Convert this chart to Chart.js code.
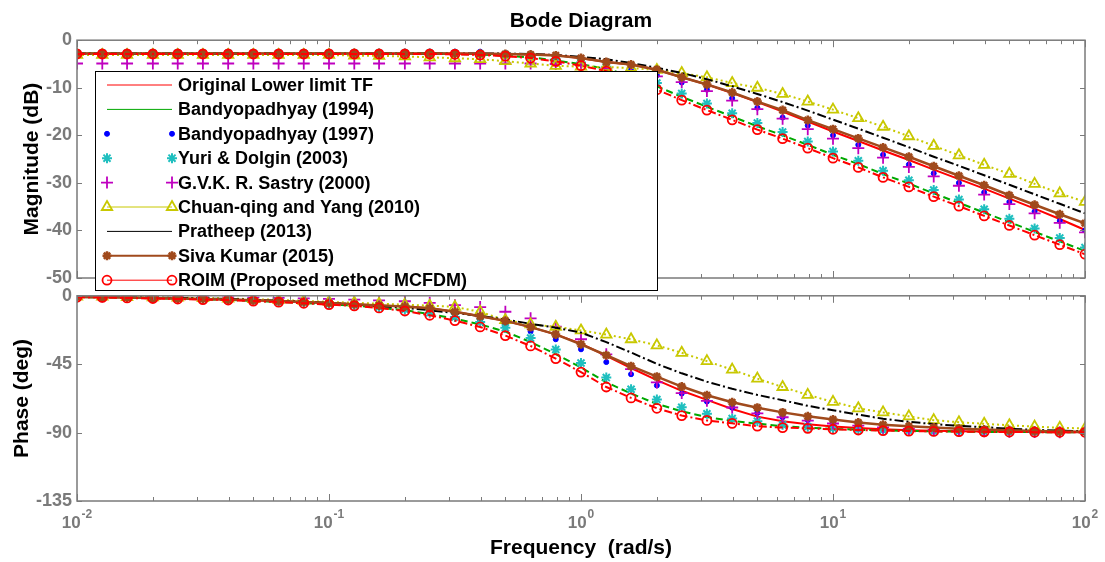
<!DOCTYPE html>
<html>
<head>
<meta charset="utf-8">
<script src="https://cdn.jsdelivr.net/npm/chart.js@4.4.1/dist/chart.umd.min.js"></script>
<style>
  body { margin: 0; background: #fff; }
  #wrap { position: relative; width: 1105px; height: 562px; }
  #magBox { position: absolute; left: 0; top: 0; z-index: 2; }
  #phBox { position: absolute; left: 0; top: 280px; z-index: 1; }
</style>
</head>
<body>
<div id="wrap">
  <div id="phBox"><canvas id="phChart" width="1105" height="282"></canvas></div>
  <div id="magBox"><canvas id="magChart" width="1105" height="300"></canvas></div>
</div>
<script>
// frequency grid (rad/s), 10 points per decade
const freq = [0.01, 0.0126, 0.0158, 0.02, 0.0251, 0.0316, 0.0398, 0.0501, 0.0631, 0.0794,
  0.1, 0.126, 0.158, 0.2, 0.251, 0.316, 0.398, 0.501, 0.631, 0.794,
  1, 1.26, 1.58, 2, 2.51, 3.16, 3.98, 5.01, 6.31, 7.94,
  10, 12.6, 15.8, 20, 25.1, 31.6, 39.8, 50.1, 63.1, 79.4, 100];

// magnitude (dB)
const magOrig = [-2.8, -2.8, -2.8, -2.8, -2.8, -2.8, -2.8, -2.8, -2.8, -2.8, -2.8, -2.8, -2.8, -2.8, -2.8, -2.8,
  -2.85, -2.9, -3.0, -3.1, -3.8, -4.6, -5.1, -6.2, -7.8, -9.3, -11.1, -13.0, -15.0, -17.1, -19.2,
  -21.2, -23.2, -25.2, -27.2, -29.2, -31.2, -33.3, -35.4, -37.6, -39.9];
const magBandy94 = [-2.8, -2.8, -2.8, -2.8, -2.8, -2.8, -2.8, -2.8, -2.8, -2.8, -2.8, -2.8, -2.8, -2.8, -2.8,
  -2.9, -3.0, -3.25, -3.6, -4.25, -5.05, -6.0, -7.55, -9.7, -11.9, -14.0, -16.05, -18.1, -20.0, -22.0, -24.1,
  -26.05, -28.15, -30.15, -32.2, -34.2, -36.25, -38.25, -40.3, -42.3, -44.3];
const magBandy97 = [-2.4, -2.4, -2.4, -2.4, -2.4, -2.4, -2.4, -2.4, -2.4, -2.4, -2.4, -2.4, -2.4, -2.4, -2.4, -2.4, -2.4,
  -2.7, -3.1, -3.6, -4.4, -5.2, -6.2, -7.35, -8.9, -10.4, -12.2, -14.2, -16.25, -17.95, -20.0,
  -22.0, -24.1, -26.15, -28.0, -30.0, -32.0, -34.0, -36.0, -38.0, -40.0];
const magYuri = [-2.8, -2.8, -2.8, -2.8, -2.8, -2.8, -2.8, -2.8, -2.8, -2.8, -2.8, -2.8, -2.8, -2.8, -2.8,
  -2.85, -2.95, -3.15, -3.45, -4.0, -4.7, -5.6, -7.0, -9.0, -11.2, -13.3, -15.35, -17.4, -19.3, -21.3, -23.4,
  -25.35, -27.45, -29.45, -31.5, -33.5, -35.55, -37.55, -39.6, -41.6, -43.6];
const magSastry = [-4.9, -4.9, -4.9, -4.9, -4.9, -4.9, -4.9, -4.9, -4.9, -4.9, -4.9, -4.9, -4.9, -4.9, -4.9, -4.9, -4.9, -4.9,
  -4.9, -5.0, -5.3, -5.95, -6.8, -7.6, -8.8, -10.7, -12.7, -14.5, -16.5, -18.7, -20.7,
  -22.7, -24.7, -26.65, -28.65, -30.6, -32.45, -34.45, -36.4, -38.4, -40.4];
const magChuan = [-3.1, -3.1, -3.1, -3.1, -3.1, -3.1, -3.1, -3.1, -3.1, -3.1, -3.1,
  -3.25, -3.3, -3.4, -3.6, -3.8, -4.0, -4.4, -4.9, -5.4, -5.55, -5.65, -5.85, -6.25, -6.9, -7.8,
  -9.0, -10.0, -11.3, -12.9, -14.6, -16.4, -18.2, -20.2, -22.2, -24.2, -26.2, -28.1, -30.2, -32.2, -34.0];
const magPratheep = [-2.8, -2.8, -2.8, -2.8, -2.8, -2.8, -2.8, -2.8, -2.8, -2.8, -2.8, -2.8, -2.8, -2.8, -2.8, -2.8, -2.8, -2.8,
  -2.9, -3.1, -3.5, -4.0, -4.8, -5.8, -6.9, -8.2, -9.7, -11.3, -13.0, -14.8, -16.7,
  -18.6, -20.5, -22.5, -24.5, -26.4, -28.4, -30.4, -32.4, -34.4, -36.4];
const magSiva = [-2.8, -2.8, -2.8, -2.8, -2.8, -2.8, -2.8, -2.8, -2.8, -2.8, -2.8, -2.8, -2.8, -2.8, -2.8, -2.8,
  -2.85, -2.9, -3.0, -3.2, -3.75, -4.6, -5.1, -6.2, -7.8, -9.3, -11.0, -12.9, -14.7, -16.8, -18.7,
  -20.65, -22.55, -24.5, -26.5, -28.5, -30.5, -32.6, -34.6, -36.6, -38.5];
const magRoim = [-2.9, -2.9, -2.9, -2.9, -2.9, -2.9, -2.9, -2.9, -2.9, -2.9, -2.9, -2.9, -2.9, -2.9, -2.9,
  -2.95, -3.1, -3.35, -3.75, -4.45, -5.35, -6.5, -8.2, -10.4, -12.6, -14.7, -16.75, -18.8, -20.7, -22.7, -24.8,
  -26.75, -28.85, -30.85, -32.9, -34.9, -36.95, -38.95, -41.0, -43.0, -45.0];

// phase (deg)
const phOrig = [-0.8, -1.0, -1.2, -1.5, -1.8, -2.1, -2.5, -3.0, -3.5, -4.1, -4.8, -5.5, -6.3, -7.1, -8.2, -10.5, -13.5, -16.5, -20.6, -25.4,
  -31.5, -39.5, -47.5, -55.5, -62.5, -68.5, -74.5, -79.5, -82.5, -84.5, -86.0, -87.0, -87.8, -88.4, -88.8, -89.1, -89.3, -89.5, -89.6, -89.7, -89.8];
const phBandy94 = [-0.8, -1.0, -1.25, -1.6, -1.9, -2.3, -2.7, -3.35, -4.05, -4.75, -5.6, -6.45, -7.75, -9.5, -12.0, -15.1, -18.8, -23.6, -30.4, -38.3,
  -47.2, -56.9, -64.3, -71.1, -76.0, -79.8, -82.3, -84.1, -85.8, -86.7, -87.5, -88.1, -88.5, -88.9, -89.15, -89.35, -89.5, -89.6, -89.7, -89.8, -89.8];
const phBandy97 = [-0.7, -0.9, -1.1, -1.4, -1.7, -2.0, -2.5, -3.0, -3.5, -4.2, -5.0, -5.9, -7.0, -8.3, -10.0, -12.5, -16.0, -20.0, -23.5, -28.6,
  -35.2, -43.6, -51.6, -59.0, -64.3, -69.6, -73.6, -77.1, -79.9, -81.8, -83.8, -85.2, -86.7, -87.3, -88.0, -88.6, -89.1, -89.5, -89.7, -89.8, -89.9];
const phYuri = [-0.7, -0.9, -1.1, -1.4, -1.7, -2.1, -2.6, -3.2, -3.9, -4.6, -5.4, -6.3, -7.5, -9.0, -11.2, -14.0, -17.2, -21.0, -27.8, -35.3,
  -44.2, -53.8, -61.5, -68.2, -73.3, -77.6, -80.7, -82.5, -84.9, -86.2, -87.2, -87.9, -88.4, -88.8, -89.1, -89.3, -89.5, -89.6, -89.7, -89.8, -89.8];
const phSastry = [-0.4, -0.5, -0.6, -0.7, -0.8, -0.9, -1.0, -1.2, -1.4, -1.7, -2.0, -2.5, -3.0, -3.6, -4.6, -6.2, -7.4, -10.5, -14.8, -20.3,
  -28.6, -38.5, -48.3, -57.0, -64.0, -69.1, -73.5, -77.3, -79.9, -82.1, -84.0, -85.4, -86.6, -87.5, -88.2, -88.7, -89.1, -89.4, -89.6, -89.7, -89.8];
const phChuan = [-0.5, -0.6, -0.8, -1.0, -1.2, -1.5, -1.8, -2.2, -2.7, -3.3, -4.0, -4.6, -5.2, -5.8, -6.5, -7.3, -10.6, -16.0, -18.8, -20.4,
  -22.8, -25.5, -28.6, -32.6, -37.5, -43.0, -48.6, -54.5, -60.0, -65.2, -69.8, -74.0, -76.7, -79.3, -81.8, -83.2, -84.2, -85.2, -86.1, -86.8, -87.3];
const phPratheep = [-0.6, -0.7, -0.9, -1.1, -1.4, -1.7, -2.1, -2.6, -3.2, -3.9, -4.7, -5.6, -6.7, -8.0, -9.5, -11.3, -13.3, -15.6, -18.4, -21.0,
  -24.2, -30.5, -37.3, -44.8, -51.0, -56.5, -61.2, -65.2, -68.7, -72.4, -75.3, -78.2, -80.9, -82.9, -84.4, -85.6, -86.4, -87.5, -88.2, -88.7, -89.1];
const phSiva = [-0.8, -1.0, -1.2, -1.5, -1.8, -2.1, -2.5, -3.0, -3.5, -4.1, -4.8, -5.5, -6.3, -7.1, -8.2, -10.5, -13.5, -16.5, -20.6, -25.4,
  -31.9, -39.1, -46.3, -53.2, -59.7, -65.4, -70.0, -73.6, -76.7, -79.3, -81.4, -83.4, -84.8, -85.9, -86.7, -87.4, -88.0, -88.5, -88.9, -89.2, -89.4];
const phRoim = [-0.9, -1.1, -1.4, -1.8, -2.1, -2.5, -2.8, -3.5, -4.2, -4.9, -5.8, -6.6, -8.0, -10.0, -12.8, -16.3, -20.5, -26.2, -33.0, -41.3,
  -50.2, -60.0, -67.2, -74.0, -78.8, -82.0, -83.9, -85.8, -86.7, -87.2, -87.8, -88.3, -88.7, -89.0, -89.2, -89.4, -89.5, -89.6, -89.7, -89.8, -89.8];

const magTicks = [0, -10, -20, -30, -40, -50];
const phTicks = [0, -45, -90, -135];
const decades = [-2, -1, 0, 1, 2];

const FONT = 'Arial, "Liberation Sans", Helvetica, sans-serif';
const AXIS_GREY = '#7a7a7a';
const NONE = 'rgba(0,0,0,0)';

const series = [
  { label: 'Original Lower limit TF', mag: magOrig, ph: phOrig, color: '#ff0000', width: 2, dash: [], line: true },
  { label: 'Bandyopadhyay (1994)', mag: magBandy94, ph: phBandy94, color: '#00a800', width: 2, dash: [7, 4], line: true },
  { label: 'Bandyopadhyay (1997)', mag: magBandy97, ph: phBandy97, color: '#0000ff', line: false,
    marker: 'circle', radius: 2.5, fill: '#0000ff', pw: 1 },
  { label: 'Yuri & Dolgin (2003)', mag: magYuri, ph: phYuri, color: '#1fbfbf', line: false,
    marker: 'star', radius: 5, fill: NONE, pw: 2 },
  { label: 'G.V.K. R. Sastry (2000)', mag: magSastry, ph: phSastry, color: '#bf00bf', line: false,
    marker: 'cross', radius: 6, fill: NONE, pw: 1.8 },
  { label: 'Chuan-qing and Yang (2010)', mag: magChuan, ph: phChuan, color: '#c8c800', width: 2, dash: [2, 3], line: true,
    marker: 'triangle', radius: 6, fill: NONE, pw: 1.8 },
  { label: 'Pratheep (2013)', mag: magPratheep, ph: phPratheep, color: '#000000', width: 2, dash: [9, 3, 2, 3], line: true },
  { label: 'Siva Kumar (2015)', mag: magSiva, ph: phSiva, color: '#a04a1c', width: 2.5, dash: [], line: true,
    marker: 'star', radius: 4.5, fill: '#a04a1c', pw: 2.5, legendWidth: 2 },
  { label: 'ROIM (Proposed method MCFDM)', mag: magRoim, ph: phRoim, color: '#ff0000', width: 2, dash: [8, 3, 2, 3], line: true,
    marker: 'circle', radius: 4.5, fill: NONE, pw: 1.8 }
];

function makeSets(key) {
  return series.map((s, i) => ({
    label: s.label,
    data: freq.map((f, j) => ({ x: f, y: s[key][j] })),
    showLine: s.line,
    borderColor: s.color,
    backgroundColor: s.fill || NONE,
    borderWidth: s.width || 1,
    borderDash: s.dash || [],
    tension: 0,
    pointStyle: s.marker || 'circle',
    pointRadius: s.marker ? s.radius : 0,
    pointBorderColor: s.color,
    pointBackgroundColor: s.fill || NONE,
    pointBorderWidth: s.pw || 1,
    order: series.length - i
  }));
}

function drawMarker(ctx, s, x, y) {
  ctx.save();
  ctx.strokeStyle = s.color;
  ctx.fillStyle = s.fill;
  ctx.lineWidth = s.pw;
  Chart.helpers.drawPoint(ctx, { pointStyle: s.marker, radius: s.radius, borderWidth: s.pw, rotation: 0 }, x, y);
  ctx.restore();
}

function drawLegend(ctx) {
  const left = 95, top = 71, right = 657, bottom = 290;
  ctx.save();
  ctx.fillStyle = '#fff';
  ctx.fillRect(left, top, right - left, bottom - top);
  ctx.strokeStyle = '#000';
  ctx.lineWidth = 1;
  ctx.strokeRect(left + 0.5, top + 0.5, right - left, bottom - top);
  ctx.font = 'bold 18px ' + FONT;
  ctx.textBaseline = 'middle';
  series.forEach((s, i) => {
    const y = 85 + i * 24.4;
    if (s.line) {
      ctx.strokeStyle = s.color;
      ctx.lineWidth = s.legendWidth || 1;
      ctx.beginPath();
      ctx.moveTo(107, y);
      ctx.lineTo(172, y);
      ctx.stroke();
    }
    if (s.marker) {
      drawMarker(ctx, s, 107, y);
      drawMarker(ctx, s, 172, y);
    }
    ctx.fillStyle = '#000';
    ctx.fillText(s.label, 178, y + 1);
  });
  ctx.restore();
}

// MATLAB-like box with inward ticks
function frame(isPhase) {
  return {
    id: 'frame' + (isPhase ? 'Ph' : 'Mag'),
    afterDraw(chart) {
      const { ctx, chartArea: a, scales } = chart;
      const xs = scales.x, ys = scales.y;
      ctx.save();
      ctx.strokeStyle = AXIS_GREY;
      ctx.lineWidth = 1.5;
      ctx.strokeRect(a.left, a.top, a.right - a.left, a.bottom - a.top);
      ctx.lineWidth = 1;
      ctx.beginPath();
      decades.forEach(e => {
        for (let m = 1; m <= 9; m++) {
          const v = m * Math.pow(10, e);
          if (v > 100) break;
          const px = Math.round(xs.getPixelForValue(v)) + 0.5;
          const len = m === 1 ? 7 : 4;
          ctx.moveTo(px, a.bottom); ctx.lineTo(px, a.bottom - len);
          ctx.moveTo(px, a.top); ctx.lineTo(px, a.top + len);
        }
      });
      ys.ticks.forEach(t => {
        const py = Math.round(ys.getPixelForValue(t.value)) + 0.5;
        ctx.moveTo(a.left, py); ctx.lineTo(a.left + 5, py);
        ctx.moveTo(a.right, py); ctx.lineTo(a.right - 5, py);
      });
      ctx.stroke();
      if (isPhase) {
        ctx.fillStyle = AXIS_GREY;
        ctx.textBaseline = 'alphabetic';
        decades.forEach(e => {
          const px = xs.getPixelForValue(Math.pow(10, e));
          const base = '10', sup = String(e);
          ctx.font = 'bold 17px ' + FONT;
          const wb = ctx.measureText(base).width;
          ctx.font = 'bold 12px ' + FONT;
          const ws = ctx.measureText(sup).width;
          const x0 = px - (wb + ws + 1) / 2;
          ctx.font = 'bold 17px ' + FONT;
          ctx.fillText(base, x0, a.bottom + 27);
          ctx.font = 'bold 12px ' + FONT;
          ctx.fillText(sup, x0 + wb + 1, a.bottom + 17);
        });
      } else {
        drawLegend(ctx);
      }
      ctx.restore();
    }
  };
}

function yAxis(min, max, step, title, titlePad) {
  return {
    min: min, max: max,
    afterFit: s => { s.width = 77; },
    grid: { display: false, drawTicks: false },
    border: { display: false },
    ticks: { stepSize: step, color: AXIS_GREY, padding: 5, font: { family: FONT, size: 18, weight: 'bold' } },
    title: { display: true, text: title, color: '#000', padding: { top: titlePad, bottom: 0 },
             font: { family: FONT, size: 21, weight: 'bold' } }
  };
}

new Chart(document.getElementById('magChart'), {
  type: 'scatter',
  data: { datasets: makeSets('mag') },
  options: {
    responsive: false,
    animation: false,
    events: [],
    layout: { padding: { top: 0, right: 20, bottom: 22, left: 0 } },
    scales: {
      x: { type: 'logarithmic', min: 0.01, max: 100, display: false },
      y: yAxis(magTicks[magTicks.length - 1], magTicks[0], 10, 'Magnitude (dB)', 20)
    },
    plugins: {
      legend: { display: false },
      tooltip: { enabled: false },
      title: { display: true, fullSize: false, text: 'Bode Diagram', color: '#000',
               font: { family: FONT, size: 21, weight: 'bold' }, padding: { top: 9, bottom: 6 } }
    }
  },
  plugins: [frame(false)]
});

new Chart(document.getElementById('phChart'), {
  type: 'scatter',
  data: { datasets: makeSets('ph') },
  options: {
    responsive: false,
    animation: false,
    events: [],
    layout: { padding: { top: 12, right: 20, bottom: 0, left: 0 } },
    scales: {
      x: {
        type: 'logarithmic', min: 0.01, max: 100,
        afterFit: s => { s.height = 61; },
        grid: { display: false, drawTicks: false },
        border: { display: false },
        ticks: { display: false },
        title: { display: true, text: 'Frequency  (rad/s)', color: '#000', padding: { top: 0, bottom: 1 },
                 font: { family: FONT, size: 21, weight: 'bold' } }
      },
      y: yAxis(phTicks[phTicks.length - 1], phTicks[0], 45, 'Phase (deg)', 10)
    },
    plugins: { legend: { display: false }, tooltip: { enabled: false } }
  },
  plugins: [frame(true)]
});
</script>
</body>
</html>
